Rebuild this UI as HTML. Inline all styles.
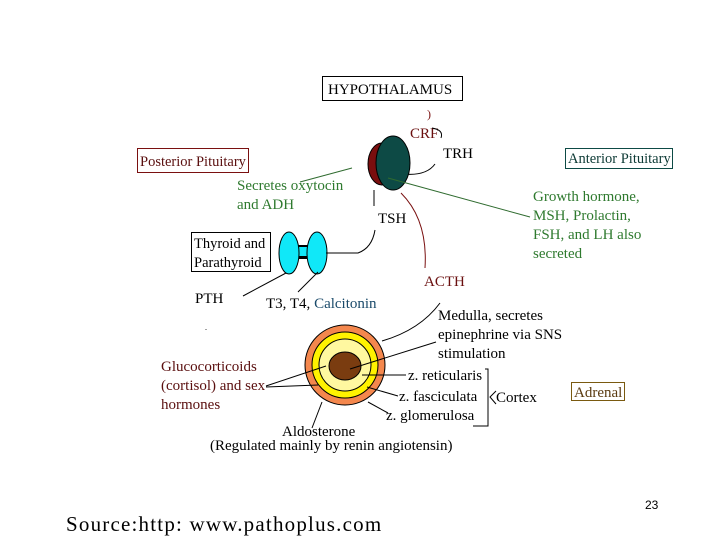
<!DOCTYPE html>
<html><head><style>
body{margin:0;background:#fff}
svg{display:block}
text{font-family:"Liberation Serif",serif;font-size:15px}
</style></head><body>
<svg width="720" height="540" viewBox="0 0 720 540" xmlns="http://www.w3.org/2000/svg">
<rect x="322.5" y="76.5" width="140" height="24" fill="none" stroke="#000"/>
<text x="328" y="94" fill="#000">HYPOTHALAMUS</text>
<rect x="137.5" y="148.5" width="111" height="24" fill="none" stroke="#7a1010"/>
<text x="140" y="166" fill="#5a0f0f" style="font-size:14.5px">Posterior Pituitary</text>
<rect x="565.5" y="148.5" width="107" height="20" fill="none" stroke="#0d4a45"/>
<text x="568" y="163" fill="#0d3a35" style="font-size:14.5px">Anterior Pituitary</text>
<text x="427" y="118" fill="#7a1010" style="font-size:12px">)</text>
<text x="410" y="138" fill="#6a0f0f">CRF</text>
<path d="M432 128 Q444 130 441 138" fill="none" stroke="#000"/>
<text x="443" y="158" fill="#000">TRH</text>
<path d="M396 173 Q425 178 435 164" fill="none" stroke="#000"/>
<line x1="394" y1="150" x2="400" y2="143" stroke="#000"/>
<ellipse cx="382" cy="164" rx="14" ry="21" fill="#7a0e0e" stroke="#000"/>
<ellipse cx="393" cy="163" rx="17" ry="27" fill="#0d4a45" stroke="#000"/>
<line x1="352" y1="168" x2="300" y2="182" stroke="#2f6b2f"/>
<text x="237" y="190" fill="#2f7a2f">Secretes oxytocin</text>
<text x="237" y="209" fill="#2f7a2f">and ADH</text>
<line x1="374" y1="190" x2="374" y2="206" stroke="#000"/>
<text x="378" y="223" fill="#000">TSH</text>
<line x1="388" y1="178" x2="530" y2="217" stroke="#2f6b2f"/>
<text x="533" y="201" fill="#2f7a2f">Growth hormone,</text>
<text x="533" y="220" fill="#2f7a2f">MSH, Prolactin,</text>
<text x="533" y="239" fill="#2f7a2f">FSH, and LH also</text>
<text x="533" y="258" fill="#2f7a2f">secreted</text>
<path d="M401 193 Q428 220 425 268" fill="none" stroke="#7a1010"/>
<text x="424" y="286" fill="#6a0f0f">ACTH</text>
<rect x="191.5" y="232.5" width="79" height="39" fill="none" stroke="#000"/>
<text x="194" y="248" fill="#000" style="font-size:14.5px">Thyroid and</text>
<text x="194" y="267" fill="#000" style="font-size:14.5px">Parathyroid</text>
<rect x="297" y="245" width="12" height="14" fill="#000"/>
<rect x="297" y="247" width="12" height="9" fill="#10e8f8"/>
<ellipse cx="289" cy="253" rx="10" ry="21" fill="#10e8f8" stroke="#000"/>
<ellipse cx="317" cy="253" rx="10" ry="21" fill="#10e8f8" stroke="#000"/>
<path d="M326 253 L358 253 Q372 248 375 230" fill="none" stroke="#000"/>
<text x="195" y="303" fill="#000">PTH</text>
<line x1="243" y1="296" x2="286" y2="273" stroke="#000"/>
<line x1="298" y1="292" x2="318" y2="272" stroke="#000"/>
<text x="266" y="308" fill="#000">T3, T4, <tspan fill="#1a4a6a">Calcitonin</tspan></text>
<circle cx="345" cy="365" r="40" fill="#f4874d" stroke="#000"/>
<circle cx="345" cy="365" r="33" fill="#fff200" stroke="#000"/>
<circle cx="345" cy="365" r="26" fill="#fff8a0" stroke="#000"/>
<ellipse cx="345" cy="366" rx="16" ry="14" fill="#7a3c10" stroke="#000"/>
<path d="M382 341 Q420 330 440 303" fill="none" stroke="#000"/>
<line x1="350" y1="369" x2="436" y2="342" stroke="#000"/>
<text x="438" y="320" fill="#000">Medulla, secretes</text>
<text x="438" y="339" fill="#000">epinephrine via SNS</text>
<text x="438" y="358" fill="#000">stimulation</text>
<line x1="362" y1="375" x2="406" y2="375" stroke="#000"/>
<text x="408" y="380" fill="#000">z. reticularis</text>
<line x1="367" y1="387" x2="398" y2="396" stroke="#000"/>
<text x="399" y="401" fill="#000">z. fasciculata</text>
<line x1="368" y1="402" x2="388" y2="413" stroke="#000"/>
<text x="386" y="420" fill="#000">z. glomerulosa</text>
<path d="M485 369 L488 369 L488 426 L473 426" fill="none" stroke="#000"/>
<path d="M496 391 L490 397 L496 404" fill="none" stroke="#000"/>
<text x="496" y="402" fill="#000">Cortex</text>
<rect x="571.5" y="382.5" width="53" height="18" fill="none" stroke="#7a5a10"/>
<text x="574" y="397" fill="#5a3a10">Adrenal</text>
<text x="161" y="371" fill="#5a0f0f">Glucocorticoids</text>
<text x="161" y="390" fill="#5a0f0f">(cortisol) and sex</text>
<text x="161" y="409" fill="#5a0f0f">hormones</text>
<line x1="266" y1="386" x2="326" y2="366" stroke="#000"/>
<line x1="266" y1="387" x2="318" y2="385" stroke="#000"/>
<line x1="312" y1="428" x2="322" y2="402" stroke="#000"/>
<text x="282" y="436" fill="#000">Aldosterone</text>
<text x="210" y="450" fill="#000">(Regulated mainly by renin angiotensin)</text>
<text x="205" y="330" fill="#000" style="font-size:8px">.</text>
<text x="66" y="531" fill="#000" style="font-size:21px;letter-spacing:1.2px">Source:http: www.pathoplus.com</text>
<text x="645" y="509" fill="#000" style="font-size:12px;font-family:'Liberation Sans',sans-serif">23</text>
</svg>
</body></html>
